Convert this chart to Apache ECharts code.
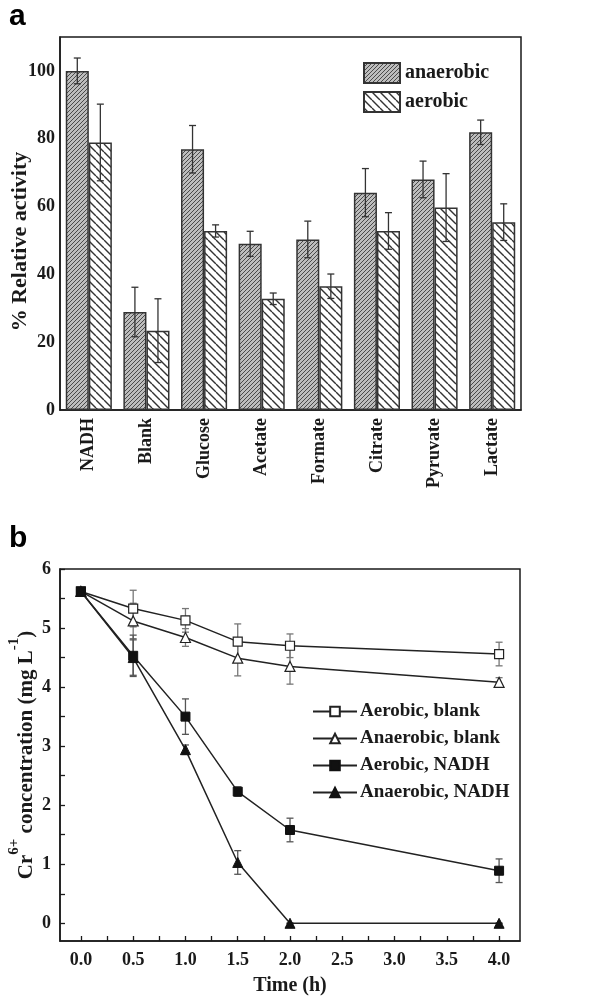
<!DOCTYPE html>
<html>
<head>
<meta charset="utf-8">
<script src="https://cdn.jsdelivr.net/npm/echarts@6/dist/echarts.min.js"></script>
<style>html,body{margin:0;padding:0;background:#fff}#main{width:603px;height:998px}</style>
</head>
<body>
<div id="main"></div>
<script>
// panel a: relative activity
const substrates = ['NADH', 'Blank', 'Glucose', 'Acetate', 'Formate', 'Citrate', 'Pyruvate', 'Lactate'];
const anaerobicAct = [100, 28.9, 76.9, 49.0, 50.3, 64.1, 68.0, 81.9];
const anaerobicErr = [3.8, 7.3, 7.0, 3.7, 5.4, 7.1, 5.4, 3.6];
const aerobicAct = [78.9, 23.4, 52.8, 32.8, 36.5, 52.8, 59.7, 55.4];
const aerobicErr = [11.3, 9.4, 1.8, 1.7, 3.6, 5.4, 10.0, 5.4];
const actLabels = [0, 20, 40, 60, 80, 100];
const actTicks = [0, 10, 20, 30, 40, 50, 60, 70, 80, 90, 100];

// panel b: Cr6+ concentration over time
const times = [0, 0.5, 1, 1.5, 2, 4];
const aerobicBlank = [5.62, 5.33, 5.13, 4.77, 4.70, 4.56];
const aerobicBlankErr = [0.06, 0.31, 0.2, 0.3, 0.2, 0.2];
const anaerobicBlank = [5.62, 5.12, 4.84, 4.49, 4.35, 4.08];
const anaerobicBlankErr = [0.06, 0.3, 0.15, 0.3, 0.3, 0.08];
const aerobicNadh = [5.62, 4.53, 3.50, 2.23, 1.58, 0.89];
const aerobicNadhErr = [0.06, 0.35, 0.3, 0.08, 0.2, 0.2];
const anaerobicNadh = [5.62, 4.50, 2.94, 1.03, 0, 0];
const anaerobicNadhErr = [0.06, 0.3, 0.08, 0.2, 0, 0];
const timeLabels = [0, 0.5, 1, 1.5, 2, 2.5, 3, 3.5, 4];
const timeTicks = [0, 0.25, 0.5, 0.75, 1, 1.25, 1.5, 1.75, 2, 2.25, 2.5, 2.75, 3, 3.25, 3.5, 3.75, 4];
const concLabels = [0, 1, 2, 3, 4, 5, 6];
const concTicks = [0, 0.5, 1, 1.5, 2, 2.5, 3, 3.5, 4, 4.5, 5, 5.5, 6];

const serif = 'Liberation Serif';
const ink = '#1a1a1a';

// hatch fills
function hatch(size, bg, fg, lw, forward) {
  const c = document.createElement('canvas');
  c.width = size; c.height = size;
  const g = c.getContext('2d');
  g.fillStyle = bg; g.fillRect(0, 0, size, size);
  g.strokeStyle = fg; g.lineWidth = lw;
  g.beginPath();
  for (let k = -1; k <= 1; k++) {
    if (forward) { g.moveTo(k * size, size); g.lineTo(k * size + size, 0); }
    else { g.moveTo(k * size, 0); g.lineTo(k * size + size, size); }
  }
  g.stroke();
  return c;
}
const denseHatch = { image: hatch(4, '#bdbdbd', '#4a4a4a', 1, true), repeat: 'repeat' };
const sparseHatch = { image: hatch(8, '#ffffff', '#333', 1.4, false), repeat: 'repeat' };

function errRows(xs, vals, errs) {
  return vals.map((v, i) => [xs[i], v - errs[i], v + errs[i]]);
}

function errRender(offset, color) {
  return function (params, api) {
    const lo = api.coord([api.value(0), api.value(1)]);
    const hi = api.coord([api.value(0), api.value(2)]);
    const band = offset ? api.size([1, 0])[0] : 0;
    const x = lo[0] + offset * band;
    const w = 3.5;
    const st = { stroke: color, lineWidth: 1.3 };
    return {
      type: 'group',
      children: [
        { type: 'line', shape: { x1: x, y1: hi[1], x2: x, y2: lo[1] }, style: st },
        { type: 'line', shape: { x1: x - w, y1: hi[1], x2: x + w, y2: hi[1] }, style: st },
        { type: 'line', shape: { x1: x - w, y1: lo[1], x2: x + w, y2: lo[1] }, style: st }
      ]
    };
  };
}

const labelStyle = { fontFamily: serif, fontWeight: 'bold', color: ink };
const axisLine = { show: true, onZero: false, lineStyle: { color: ink, width: 1.5 } };

const chart = echarts.init(document.getElementById('main'));
const idx = substrates.map((s, i) => i);

chart.setOption({
  animation: false,
  backgroundColor: '#fff',
  graphic: [
    { type: 'text', left: 9, top: 2, style: { text: 'a', font: 'bold 30px "Liberation Sans"', fill: '#000' } },
    { type: 'text', left: 9, top: 524, style: { text: 'b', font: 'bold 30px "Liberation Sans"', fill: '#000' } }
  ],
  legend: [
    {
      data: ['anaerobic', 'aerobic'],
      orient: 'vertical', left: 358, top: 57,
      itemWidth: 36, itemHeight: 20, itemGap: 7, icon: 'rect',
      textStyle: { fontFamily: serif, fontWeight: 'bold', fontSize: 20, color: ink, padding: [0, 0, 0, 0] }
    },
    {
      data: ['Aerobic, blank', 'Anaerobic, blank', 'Aerobic, NADH', 'Anaerobic, NADH'],
      orient: 'vertical', left: 307, top: 697,
      itemWidth: 44, itemHeight: 12, itemGap: 8,
      textStyle: { fontFamily: serif, fontWeight: 'bold', fontSize: 19, color: ink, padding: [0, 0, 0, -2] }
    }
  ],
  grid: [
    { left: 60, top: 37, right: 82, height: 373, outerBoundsMode: 'none', show: true, borderColor: ink, borderWidth: 1.5, backgroundColor: 'transparent' },
    { left: 60, top: 569, right: 83, height: 372, outerBoundsMode: 'none', show: true, borderColor: ink, borderWidth: 1.5, backgroundColor: 'transparent' }
  ],
  xAxis: [
    {
      gridIndex: 0, type: 'category', data: substrates,
      axisLine: axisLine,
      axisTick: { inside: true, length: 5, lineStyle: { color: ink, width: 1.3 } },
      axisLabel: Object.assign({ rotate: 90, fontSize: 18, margin: 8 }, labelStyle)
    },
    {
      gridIndex: 1, type: 'value', min: -0.2, max: 4.2,
      name: 'Time (h)', nameLocation: 'middle', nameGap: 35, nameMoveOverlap: false,
      nameTextStyle: { fontFamily: serif, fontWeight: 'bold', fontSize: 20, color: ink },
      splitLine: { show: false },
      axisLine: axisLine,
      axisTick: { inside: true, length: 5, customValues: timeTicks, lineStyle: { color: ink, width: 1.3 } },
      axisLabel: Object.assign({ fontSize: 18, margin: 10, customValues: timeLabels, formatter: v => v.toFixed(1) }, labelStyle)
    }
  ],
  yAxis: [
    {
      gridIndex: 0, type: 'value', min: 0, max: 110,
      name: '% Relative activity', nameLocation: 'middle', nameGap: 29, nameRotate: 90, nameMoveOverlap: false,
      nameTextStyle: { fontFamily: serif, fontWeight: 'bold', fontSize: 22, color: ink, padding: [0, 36, 0, 0] },
      splitLine: { show: false },
      axisLine: axisLine,
      axisTick: { inside: true, length: 5, customValues: actTicks, lineStyle: { color: ink, width: 1.3 } },
      axisLabel: Object.assign({ fontSize: 18, margin: 5, customValues: actLabels }, labelStyle)
    },
    {
      gridIndex: 1, type: 'value', min: -0.3, max: 6,
      name: '{t|Cr}{s|6+}{t| concentration (mg L}{s|-1}{t|)}', nameLocation: 'middle', nameGap: 23, nameRotate: 90, nameMoveOverlap: false,
      nameTextStyle: {
        rich: {
          t: { fontFamily: serif, fontWeight: 'bold', fontSize: 21, color: ink, lineHeight: 30, verticalAlign: 'bottom' },
          s: { fontFamily: serif, fontWeight: 'bold', fontSize: 15, color: ink, lineHeight: 30, verticalAlign: 'top' }
        }
      },
      splitLine: { show: false },
      axisLine: axisLine,
      axisTick: { inside: true, length: 5, customValues: concTicks, lineStyle: { color: ink, width: 1.3 } },
      axisLabel: Object.assign({ fontSize: 18, margin: 9, customValues: concLabels }, labelStyle)
    }
  ],
  series: [
    {
      name: 'anaerobic', type: 'bar', xAxisIndex: 0, yAxisIndex: 0,
      data: anaerobicAct, barWidth: '40%', barGap: '0%',
      itemStyle: { color: denseHatch, borderColor: '#333', borderWidth: 1.5 }
    },
    {
      name: 'aerobic', type: 'bar', xAxisIndex: 0, yAxisIndex: 0,
      data: aerobicAct, barWidth: '40%', barGap: '0%',
      itemStyle: { color: sparseHatch, borderColor: '#333', borderWidth: 1.5 }
    },
    {
      type: 'custom', xAxisIndex: 0, yAxisIndex: 0, z: 5, silent: true,
      data: errRows(idx, anaerobicAct, anaerobicErr), encode: { x: 0, y: [1, 2] },
      renderItem: errRender(-0.2, '#333')
    },
    {
      type: 'custom', xAxisIndex: 0, yAxisIndex: 0, z: 5, silent: true,
      data: errRows(idx, aerobicAct, aerobicErr), encode: { x: 0, y: [1, 2] },
      renderItem: errRender(0.2, '#333')
    },
    {
      type: 'custom', xAxisIndex: 1, yAxisIndex: 1, z: 1, silent: true,
      data: errRows(times, aerobicBlank, aerobicBlankErr), encode: { x: 0, y: [1, 2] },
      renderItem: errRender(0, '#777')
    },
    {
      type: 'custom', xAxisIndex: 1, yAxisIndex: 1, z: 1, silent: true,
      data: errRows(times, anaerobicBlank, anaerobicBlankErr), encode: { x: 0, y: [1, 2] },
      renderItem: errRender(0, '#777')
    },
    {
      type: 'custom', xAxisIndex: 1, yAxisIndex: 1, z: 1, silent: true,
      data: errRows(times, aerobicNadh, aerobicNadhErr), encode: { x: 0, y: [1, 2] },
      renderItem: errRender(0, '#555')
    },
    {
      type: 'custom', xAxisIndex: 1, yAxisIndex: 1, z: 1, silent: true,
      data: errRows(times, anaerobicNadh, anaerobicNadhErr), encode: { x: 0, y: [1, 2] },
      renderItem: errRender(0, '#555')
    },
    {
      name: 'Aerobic, blank', type: 'line', xAxisIndex: 1, yAxisIndex: 1,
      data: times.map((t, i) => [t, aerobicBlank[i]]),
      symbol: 'rect', symbolSize: 9, z: 3,
      lineStyle: { color: '#222', width: 1.5 },
      itemStyle: { color: '#fff', borderColor: '#222', borderWidth: 1.2 }
    },
    {
      name: 'Anaerobic, blank', type: 'line', xAxisIndex: 1, yAxisIndex: 1,
      data: times.map((t, i) => [t, anaerobicBlank[i]]),
      symbol: 'triangle', symbolSize: 10, z: 3,
      lineStyle: { color: '#222', width: 1.5 },
      itemStyle: { color: '#fff', borderColor: '#222', borderWidth: 1.2 }
    },
    {
      name: 'Aerobic, NADH', type: 'line', xAxisIndex: 1, yAxisIndex: 1,
      data: times.map((t, i) => [t, aerobicNadh[i]]),
      symbol: 'rect', symbolSize: 9, z: 3,
      lineStyle: { color: '#222', width: 1.5 },
      itemStyle: { color: '#111', borderColor: '#111', borderWidth: 1 }
    },
    {
      name: 'Anaerobic, NADH', type: 'line', xAxisIndex: 1, yAxisIndex: 1,
      data: times.map((t, i) => [t, anaerobicNadh[i]]),
      symbol: 'triangle', symbolSize: 10, z: 3,
      lineStyle: { color: '#222', width: 1.5 },
      itemStyle: { color: '#111', borderColor: '#111', borderWidth: 1 }
    }
  ]
});
</script>
</body>
</html>
